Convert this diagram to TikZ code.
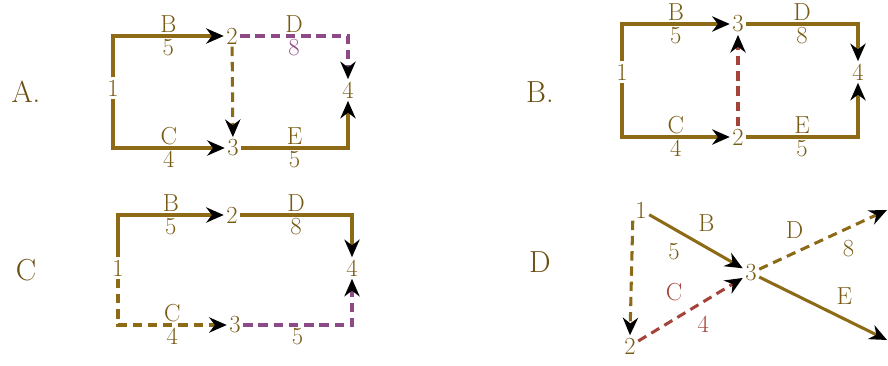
\documentclass[tikz,border=0pt]{standalone}
\usepackage{tikz}
\usetikzlibrary{arrows.meta}
\definecolor{gold}{HTML}{8C6A16}
\definecolor{dred}{HTML}{A5423A}
\definecolor{mauve}{HTML}{8E4A86}
\newcommand{\lblsize}{\fontsize{21}{23}\selectfont}
\tikzset{num/.style={font=\lblsize, text=gold!85!black, inner sep=2pt},
         wt/.style={font=\lblsize, text=gold!85!black, inner sep=1pt, outer sep=2pt},
         opt/.style={font=\fontsize{26}{28}\selectfont, text=gold!75!black},
         act/.style={-{Stealth[length=15pt,width=13pt,black]}, line width=2.6pt, gold},
         dum/.style={act, dash pattern=on 8pt off 5pt}}
\begin{document}
\begin{tikzpicture}[x=0.03cm, y=-0.03cm]
\useasboundingbox (0,0) rectangle (888,366);
% A
\node[opt] (la) at (26,92) {A.};
\node[num] (a1) at (113,88) {1};
\node[num] (a2) at (232,36) {2};
\node[num] (a3) at (233,148) {3};
\node[num] (a4) at (348,90) {4};
\draw[act] (a1) |- (a2) node[wt, pos=0.75, above] {B} node[wt, pos=0.75, below] {5};
\draw[act] (a1) |- (a3) node[wt, pos=0.75, above] {C} node[wt, pos=0.75, below] {4};
\draw[dum, gold] (a2) -- (a3);
\draw[dum, mauve] (a2) -| (a4) node[wt, pos=0.25, above] {D} node[wt, pos=0.25, below, text=mauve] {8};
\draw[act] (a3) -| (a4) node[wt, pos=0.25, above] {E} node[wt, pos=0.25, below] {5};
% B
\node[opt] (lb) at (540,92) {B.};
\node[num] (b1) at (622,72) {1};
\node[num] (b3) at (738,24) {3};
\node[num] (b2) at (738,137) {2};
\node[num] (b4) at (858,72) {4};
\draw[act] (b1) |- (b3) node[wt, pos=0.75, above] {B} node[wt, pos=0.75, below] {5};
\draw[act] (b1) |- (b2) node[wt, pos=0.75, above] {C} node[wt, pos=0.75, below] {4};
\draw[dum, dred] (b2) -- (b3);
\draw[act] (b3) -| (b4) node[wt, pos=0.25, above] {D} node[wt, pos=0.25, below] {8};
\draw[act] (b2) -| (b4) node[wt, pos=0.25, above] {E} node[wt, pos=0.25, below] {5};
% C
\node[opt] (lc) at (26,270) {C};
\node[num] (c1) at (118,268) {1};
\node[num] (c2) at (232,215) {2};
\node[num] (c3) at (235,325) {3};
\node[num] (c4) at (352,268) {4};
\draw[act] (c1) |- (c2) node[wt, pos=0.75, above] {B} node[wt, pos=0.75, below] {5};
\draw[act] (c2) -| (c4) node[wt, pos=0.25, above] {D} node[wt, pos=0.25, below] {8};
\draw[dum] (c1) |- (c3) node[wt, pos=0.75, above] {C} node[wt, pos=0.75, below] {4};
\draw[dum, mauve] (c3) -| (c4) node[wt, pos=0.25, below, text=gold!85!black] {5};
% D
\node[opt] (ld) at (540,262) {D};
\node[num] (d1) at (641,210) {1};
\node[num] (d2) at (630,346) {2};
\node[num] (d3) at (751,273) {3};
\coordinate (d4) at (887,210);
\coordinate (d5) at (887,340);
\draw[act] (d1) -- (d3) node[wt, pos=0.45, above right=3pt] {B} node[wt, pos=0.4, below left=3pt] {5};
\draw[dum] (d1.south west) -- (d2.north);
\draw[dum, dred] (d2) -- (d3) node[wt, pos=0.5, above left=4pt, text=dred] {C} node[wt, pos=0.5, below right=3pt, text=dred] {4};
\draw[dum] (d3) -- (d4) node[wt, pos=0.4, above left=3pt] {D} node[wt, pos=0.6, below right=3pt] {8};
\draw[act] (d3) -- (d5) node[wt, pos=0.55, above right=3pt] {E};
\end{tikzpicture}
\end{document}
